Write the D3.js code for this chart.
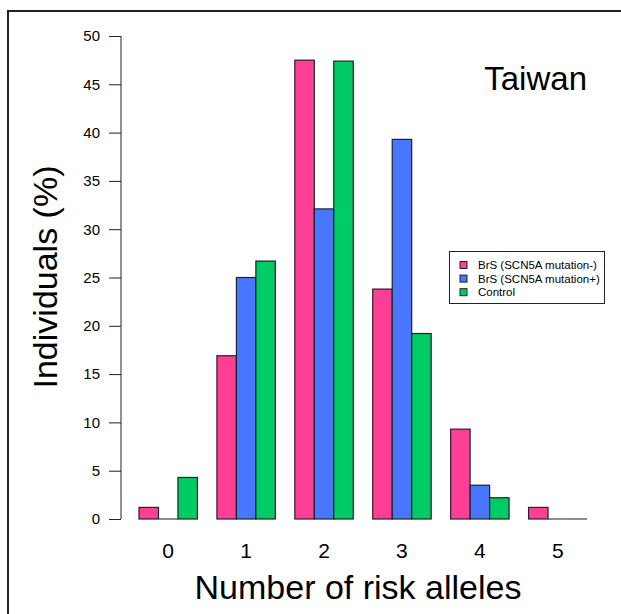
<!DOCTYPE html>
<html><head><meta charset="utf-8">
<script src="https://cdn.jsdelivr.net/npm/d3@7"></script>
<style>body{margin:0;background:#fff}svg{display:block;font-family:Arial,"Liberation Sans",sans-serif}</style>
</head><body>
<svg id="c" width="621" height="614"></svg>
<script>
const categories = ["0","1","2","3","4","5"];
const seriesNames = ["BrS (SCN5A mutation-)","BrS (SCN5A mutation+)","Control"];
const brsNeg = [1.2, 16.9, 47.5, 23.8, 9.3, 1.2];
const brsPos = [0, 25.0, 32.1, 39.3, 3.5, 0];
const control = [4.3, 26.7, 47.4, 19.2, 2.2, 0];
const yTicks = [0,5,10,15,20,25,30,35,40,45,50];
const colors = ["#FF3E96","#4876FF","#00CC66"];

const series = [brsNeg, brsPos, control];
const svg = d3.select("#c");

// outer frame
svg.append("rect").attr("x",8).attr("y",11).attr("width",640).attr("height",640)
  .attr("fill","none").attr("stroke","#222").attr("stroke-width",2);

const x0 = d3.scaleBand().domain(categories).range([139,587]).paddingInner(0.25).paddingOuter(0);
const x1 = d3.scaleBand().domain(d3.range(seriesNames.length)).range([0,x0.bandwidth()]).padding(0);
const y = d3.scaleLinear().domain([0,50]).range([519,36]);

const g = svg.append("g");
categories.forEach((c,i)=>{
  series.forEach((s,j)=>{
    const bx = x0(c)+x1(j), bw = x1.bandwidth();
    if (s[i] > 0) {
      g.append("rect")
        .attr("x", bx)
        .attr("y", y(s[i]))
        .attr("width", bw)
        .attr("height", y(0)-y(s[i]))
        .attr("fill", colors[j])
        .attr("stroke","#222").attr("stroke-width",1.2);
    } else {
      g.append("line")
        .attr("x1", bx).attr("x2", bx+bw)
        .attr("y1", y(0)).attr("y2", y(0))
        .attr("stroke","#444").attr("stroke-width",1.2);
    }
  });
});

// y axis
const yAxis = d3.axisLeft(y).tickValues(yTicks).tickSize(12).tickPadding(9).tickFormat(d3.format("d"));
const ya = svg.append("g").attr("transform","translate(121,0)").call(yAxis);
ya.select(".domain").attr("stroke","#222").attr("d","M0,"+y(50)+"V"+y(0));
ya.selectAll(".tick line").attr("stroke","#222");
ya.selectAll("text").attr("font-size",15).attr("fill","#000").attr("font-family","Arial,'Liberation Sans',sans-serif");

// x labels
svg.append("g").selectAll("text").data(categories).join("text")
  .attr("x", d=>x0(d)+x0.bandwidth()/2).attr("y",558)
  .attr("text-anchor","middle").attr("font-size",21).text(d=>d);

// axis titles
svg.append("text").attr("x",358).attr("y",599).attr("text-anchor","middle")
  .attr("font-size",34).text("Number of risk alleles");
svg.append("text").attr("transform","translate(57,277) rotate(-90)").attr("text-anchor","middle")
  .attr("font-size",34).text("Individuals (%)");

// Taiwan
svg.append("text").attr("x",587).attr("y",90).attr("text-anchor","end")
  .attr("font-size",33).text("Taiwan");

// legend
const lg = svg.append("g");
lg.append("rect").attr("x",449.5).attr("y",251.5).attr("width",155).attr("height",52)
  .attr("fill","#fff").attr("stroke","#222").attr("stroke-width",1);
seriesNames.forEach((n,j)=>{
  const cy = 265 + j*13.6;
  lg.append("rect").attr("x",460).attr("y",cy-3.5).attr("width",7).attr("height",7)
    .attr("fill",colors[j]).attr("stroke","#222").attr("stroke-width",1);
  lg.append("text").attr("x",478).attr("y",cy+4).attr("font-size",11.5).text(n);
});
</script>
</body></html>
